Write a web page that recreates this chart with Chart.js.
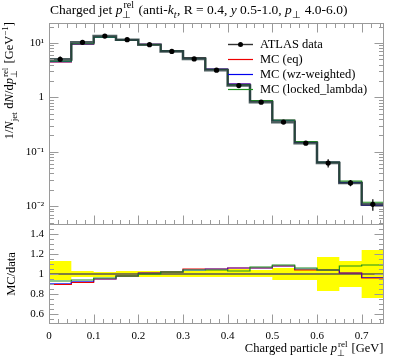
<!DOCTYPE html>
<html><head><meta charset="utf-8">
<script src="https://cdn.jsdelivr.net/npm/chart.js@4/dist/chart.umd.min.js"></script>
<style>html,body{margin:0;padding:0;background:#fff;}#wrap{width:397px;height:358px;}</style>
</head><body><div id="wrap"><canvas id="c" width="397" height="358"></canvas></div>
<script>
// ---- data ----
const binEdges = [0,0.05,0.1,0.15,0.2,0.25,0.3,0.35,0.4,0.45,0.5,0.55,0.6,0.65,0.7,0.75];
const atlasData = [5.0,10.3,13.4,11.5,9.3,7.0,5.1,3.16,1.65,0.817,0.351,0.144,0.062,0.0267,0.0108];
const dataRelHi = [1.13,1.03,1.02,1.03,1.03,1.03,1.03,1.04,1.05,1.04,1.06,1.05,1.17,1.13,1.24];
const dataRelLo = [0.94,0.97,0.97,0.97,0.97,0.97,0.97,0.97,0.97,0.97,0.94,0.94,0.83,0.87,0.76];
const mcEq     = [4.5,9.48,12.73,11.27,9.39,7.14,5.36,3.32,1.75,0.866,0.379,0.150,0.0645,0.0270,0.0104];
const mcWz     = [4.55,9.58,12.73,11.27,9.39,7.14,5.30,3.32,1.75,0.866,0.379,0.151,0.0645,0.0270,0.0104];
const mcLocked = [4.65,9.68,12.86,11.27,9.30,7.14,5.30,3.29,1.70,0.874,0.383,0.153,0.0645,0.0288,0.0118];
const ratioEq     = [0.895,0.915,0.95,0.98,1.01,1.02,1.05,1.05,1.06,1.06,1.08,1.04,1.04,1.01,0.96];
const ratioWz     = [0.905,0.925,0.95,0.98,1.01,1.02,1.04,1.05,1.06,1.06,1.08,1.05,1.04,1.01,0.965];
const ratioLocked = [0.93,0.94,0.96,0.98,1.00,1.02,1.04,1.04,1.03,1.07,1.09,1.06,1.04,1.08,1.09];
const ratioData   = [1,1,1,1,1,1,1,1,1,1,1,1,1,1,1];
const seriesNames = ['ATLAS data','MC (eq)','MC (wz-weighted)','MC (locked_lambda)'];
const xTickValues = [0,0.1,0.2,0.3,0.4,0.5,0.6,0.7];
const xTickLabels = ['0','0.1','0.2','0.3','0.4','0.5','0.6','0.7'];
const yTickValues = [0.01,0.1,1,10];
const yTickLabels = ['10\u207B\u00B2','10\u207B\u00B9','1','10\u00B9'];
const rTickValues = [0.6,0.8,1,1.2,1.4];
const rTickLabels = ['0.6','0.8','1','1.2','1.4'];

const FONT = "'Liberation Serif', serif";
const COL = {data:'rgba(38,58,60,0.82)', eq:'#ee0000', wz:'#0000ee', locked:'#1f8f1f', frame:'#9a9a9a'};

function steps(vals){const p=[];vals.forEach((v,i)=>{p.push({x:binEdges[i],y:v});p.push({x:binEdges[i+1],y:v});});return p;}
function centers(){return atlasData.map((v,i)=>(binEdges[i]+binEdges[i+1])/2);}
function errBars(){const c=centers();const p=[];atlasData.forEach((v,i)=>{p.push({x:c[i],y:v*dataRelLo[i]});p.push({x:c[i],y:v*dataRelHi[i]});p.push({x:c[i],y:null});});return p;}
function points(){const c=centers();return atlasData.map((v,i)=>({x:c[i],y:v}));}

const L = {pointRadius:0, borderWidth:1.2, fill:false, tension:0};
const datasets = [
  Object.assign({}, L, {data:points(), yAxisID:'y', showLine:false, pointRadius:2.6, pointBackgroundColor:'#000', pointBorderWidth:0, order:0}),
  Object.assign({}, L, {data:errBars(), yAxisID:'y', borderColor:'#000', borderWidth:1.2, spanGaps:false, order:1}),
  Object.assign({}, L, {data:steps(atlasData), yAxisID:'y', borderColor:COL.data, borderWidth:2.6, order:2}),
  Object.assign({}, L, {data:steps(mcLocked), yAxisID:'y', borderColor:COL.locked, order:3}),
  Object.assign({}, L, {data:steps(mcWz), yAxisID:'y', borderColor:COL.wz, order:4}),
  Object.assign({}, L, {data:steps(mcEq), yAxisID:'y', borderColor:COL.eq, order:5}),
  Object.assign({}, L, {data:steps(ratioLocked), yAxisID:'y2', borderColor:COL.locked, order:10}),
  Object.assign({}, L, {data:steps(ratioWz), yAxisID:'y2', borderColor:'rgba(0,0,238,0.65)', order:11}),
  Object.assign({}, L, {data:steps(ratioEq), yAxisID:'y2', borderColor:COL.eq, order:12}),
  Object.assign({}, L, {data:steps(ratioData), yAxisID:'y2', borderColor:'#555', borderWidth:1.4, order:13}),
  Object.assign({}, L, {data:steps(dataRelHi), yAxisID:'y2', borderWidth:0, borderColor:'rgba(0,0,0,0)', backgroundColor:'#ffff00', fill:'+1', order:20}),
  Object.assign({}, L, {data:steps(dataRelLo), yAxisID:'y2', borderWidth:0, borderColor:'rgba(0,0,0,0)', order:21})
];

function rich(ctx, parts, x, y, size, draw){
  let cx = x;
  for (const p of parts){
    const it = p.it ? 'italic ' : '';
    if (p.t !== undefined){ctx.font=it+size+'px '+FONT; if(draw) ctx.fillText(p.t,cx,y); cx+=ctx.measureText(p.t).width;}
    else if (p.ss){const s=Math.round(size*0.72); ctx.font=s+'px '+FONT; const w1=ctx.measureText(p.ss[0]).width, w2=ctx.measureText(p.ss[1]).width; if(draw){ctx.fillText(p.ss[0],cx+1,y-size*0.42); ctx.fillText(p.ss[1],cx,y+size*0.3);} cx+=Math.max(w1+1,w2)+1;}
    else if (p.sup){const s=Math.round(size*0.72); ctx.font=it+s+'px '+FONT; if(draw) ctx.fillText(p.sup,cx,y-size*0.42); cx+=ctx.measureText(p.sup).width;}
    else if (p.sub){const s=Math.round(size*0.72); ctx.font=it+s+'px '+FONT; if(draw) ctx.fillText(p.sub,cx,y+size*0.3); cx+=ctx.measureText(p.sub).width+0.5;}
  }
  return cx - x;
}

const titleParts = [{t:'Charged jet '},{t:'p',it:1},{ss:['rel','\u22A5']},{t:' (anti-'},{t:'k',it:1},{sub:'t',it:1},{t:', R = 0.4, '},{t:'y',it:1},{t:' 0.5-1.0, '},{t:'p',it:1},{sub:'\u22A5'},{t:' 4.0-6.0)'}];
const yTitleParts = [{t:'1/'},{t:'N',it:1},{sub:'jet'},{t:' d'},{t:'N',it:1},{t:'/d'},{t:'p',it:1},{ss:['rel','\u22A5']},{t:' [GeV'},{sup:'\u22121'},{t:']'}];
const xTitleParts = [{t:'Charged particle '},{t:'p',it:1},{ss:['rel','\u22A5']},{t:' [GeV]'}];
const rTitleParts = [{t:'MC/data'}];

const framePlugin = {
  id:'frame',
  afterDraw(chart){
    const ctx = chart.ctx, x = chart.scales.x, y = chart.scales.y, r = chart.scales.y2;
    const L0 = Math.round(x.left)+0.5, R0 = Math.round(x.right)-0.5;
    ctx.save();
    ctx.strokeStyle = COL.frame; ctx.lineWidth = 1;
    const T = Math.round(y.top)+0.5, M = Math.round(y.bottom)+0.5, B = Math.round(r.bottom)-0.5;
    ctx.strokeRect(L0, T, R0-L0, M-T);
    ctx.strokeRect(L0, M, R0-L0, B-M);
    ctx.beginPath();
    for (let i=0;i<=37;i++){
      const v = i*0.02; const px = Math.round(x.getPixelForValue(v))+0.5;
      const maj = (i%5===0); const len = maj?9:4.5;
      ctx.moveTo(px,T); ctx.lineTo(px,T+len);
      ctx.moveTo(px,M); ctx.lineTo(px,M-len);
      ctx.moveTo(px,B); ctx.lineTo(px,B-len);
    }
    for (let e=-3;e<=1;e++){
      for (let k=1;k<=9;k++){
        const v = k*Math.pow(10,e);
        if (v < y.min || v > y.max) continue;
        const py = Math.round(y.getPixelForValue(v))+0.5; const len = k===1?9:4.5;
        ctx.moveTo(L0,py); ctx.lineTo(L0+len,py);
        ctx.moveTo(R0,py); ctx.lineTo(R0-len,py);
      }
    }
    for (let i=11;i<=29;i++){
      const v = i*0.05; const py = Math.round(r.getPixelForValue(v))+0.5; const len = (i%4===0)?9:4.5;
      ctx.moveTo(L0,py); ctx.lineTo(L0+len,py);
      ctx.moveTo(R0,py); ctx.lineTo(R0-len,py);
    }
    ctx.stroke();
    ctx.fillStyle = '#000'; ctx.textBaseline = 'alphabetic'; ctx.textAlign = 'left';
    rich(ctx, titleParts, 50, 14, 13.5, true);
    const xw = rich(ctx, xTitleParts, 0, 0, 12.5, false);
    rich(ctx, xTitleParts, R0 - xw, 352, 12.5, true);
    ctx.save(); const yw = rich(ctx, yTitleParts, 0, 0, 12.5, false);
    ctx.translate(13, 22 + yw); ctx.rotate(-Math.PI/2); rich(ctx, yTitleParts, 0, 0, 12.5, true); ctx.restore();
    ctx.save(); const rw = rich(ctx, rTitleParts, 0, 0, 12.5, false);
    ctx.translate(15, r.getPixelForValue(1) + rw/2); ctx.rotate(-Math.PI/2); rich(ctx, rTitleParts, 0, 0, 12.5, true); ctx.restore();
    const lcol = ['#333', COL.eq, COL.wz, COL.locked];
    seriesNames.forEach((n,i)=>{
      const cy = 44 + i*15;
      ctx.strokeStyle = lcol[i]; ctx.lineWidth = i===0?1.4:1.2;
      ctx.beginPath(); ctx.moveTo(228, cy+0.5); ctx.lineTo(253, cy+0.5); ctx.stroke();
      if (i===0){ctx.fillStyle='#000'; ctx.beginPath(); ctx.arc(240.5, cy+0.5, 2.5, 0, Math.PI*2); ctx.fill();}
      ctx.fillStyle = '#000'; ctx.font = '12.5px '+FONT; ctx.fillText(n, 260, cy+4);
    });
    ctx.restore();
  }
};

const tickFont = {family:FONT, size:11};
new Chart(document.getElementById('c'), {
  type:'line',
  data:{datasets},
  options:{
    responsive:false, animation:false, devicePixelRatio:1,
    layout:{padding:{left:0,right:13,top:23,bottom:0}},
    plugins:{legend:{display:false}, tooltip:{enabled:false}},
    scales:{
      y2:{type:'linear', position:'left', stack:'v', stackWeight:1, min:0.5, max:1.5,
         afterBuildTicks:s=>{s.ticks = rTickValues.map(v=>({value:v}));},
         afterFit:s=>{s.width=49;},
         grid:{display:false, drawTicks:false}, border:{display:false},
         ticks:{padding:5, color:'#000', font:tickFont, autoSkip:false, callback:(v,i)=>rTickLabels[i]}},
      y:{type:'logarithmic', position:'left', stack:'v', stackWeight:2.01, min:0.0047, max:23.3,
         afterBuildTicks:s=>{s.ticks = yTickValues.map(v=>({value:v}));},
         afterFit:s=>{s.width=49;},
         grid:{display:false, drawTicks:false}, border:{display:false},
         ticks:{padding:5, color:'#000', font:tickFont, autoSkip:false, callback:(v,i)=>yTickLabels[i]}},
      x:{type:'linear', position:'bottom', min:0, max:0.75,
         afterBuildTicks:s=>{s.ticks = xTickValues.map(v=>({value:v}));},
         afterFit:s=>{s.height=34;},
         grid:{display:false, drawTicks:false}, border:{display:false},
         ticks:{padding:6, color:'#000', font:tickFont, maxRotation:0, autoSkip:false, callback:(v,i)=>xTickLabels[i]}}
    }
  },
  plugins:[framePlugin]
});
</script></body></html>
